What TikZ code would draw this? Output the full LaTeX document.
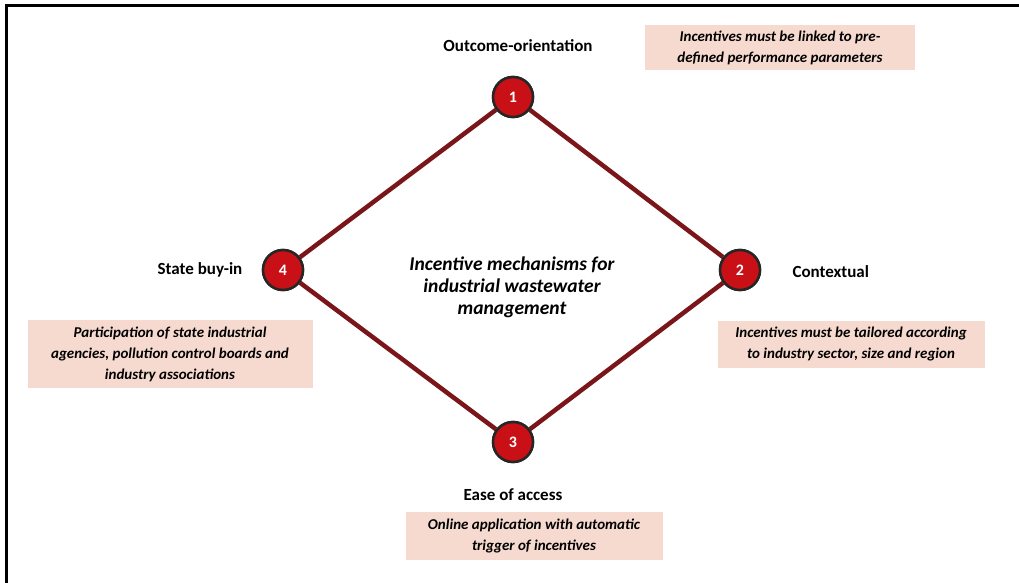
\documentclass[tikz,border=0pt]{standalone}
\usepackage{fontspec}
\setmainfont{Carlito}
\definecolor{linkred}{RGB}{122,22,26}
\definecolor{discred}{RGB}{200,16,22}
\definecolor{notefill}{RGB}{246,218,208}
\begin{document}
\begin{tikzpicture}[x=1pt,y=-1pt,
  link/.style={draw=linkred,line width=4.5pt},
  disc/.style={circle,draw=black!85,line width=2.5pt,fill=discred,minimum size=40pt,inner sep=0pt,
    text=white,font=\fontsize{16}{19}\selectfont\bfseries},
  heading/.style={font=\fontsize{17}{20}\selectfont\bfseries},
  note/.style={fill=notefill,inner sep=0pt,align=center,font=\fontsize{15}{21}\selectfont\bfseries\itshape},
  core/.style={align=center,font=\fontsize{19.5}{22}\selectfont\bfseries\itshape}]
\useasboundingbox (0,0) rectangle (1019,583);
% frame edges
\draw[line width=3pt] (6,583) -- (6,6) -- (1019,6);
% numbered stations
\node[disc] (n1) at (513,97) {1};
\node[disc] (n2) at (740,270) {2};
\node[disc] (n3) at (513,442) {3};
\node[disc] (n4) at (283,270) {4};
% diamond sides
\draw[link] (n1) -- (n2);
\draw[link] (n2) -- (n3);
\draw[link] (n3) -- (n4);
\draw[link] (n4) -- (n1);
% redraw discs above the links
\node[disc] at (n1) {1};
\node[disc] at (n2) {2};
\node[disc] at (n3) {3};
\node[disc] at (n4) {4};
% headings
\node[heading] (h1) at (518,46) {Outcome-orientation};
\node[heading,anchor=west] (h2) at (789,272) {Contextual};
\node[heading] (h3) at (513,495) {Ease of access};
\node[heading] (h4) at (200,270) {State buy-in};
% centre text
\node[core] (c) at (512,287) {Incentive mechanisms for\\industrial wastewater\\management};
% notes
\node[note,minimum width=270pt,minimum height=45pt] (b1) at (780,48) {Incentives must be linked to pre-\\defined performance parameters};
\node[note,minimum width=267pt,minimum height=47pt] (b2) at (851,344) {Incentives must be tailored according\\to industry sector, size and region};
\node[note,minimum width=285pt,minimum height=68pt] (b4) at (170,354) {Participation of state industrial\\agencies, pollution control boards and\\industry associations};
\node[note,minimum width=257pt,minimum height=48pt] (b3) at (534,536) {Online application with automatic\\trigger of incentives};
\end{tikzpicture}
\end{document}
